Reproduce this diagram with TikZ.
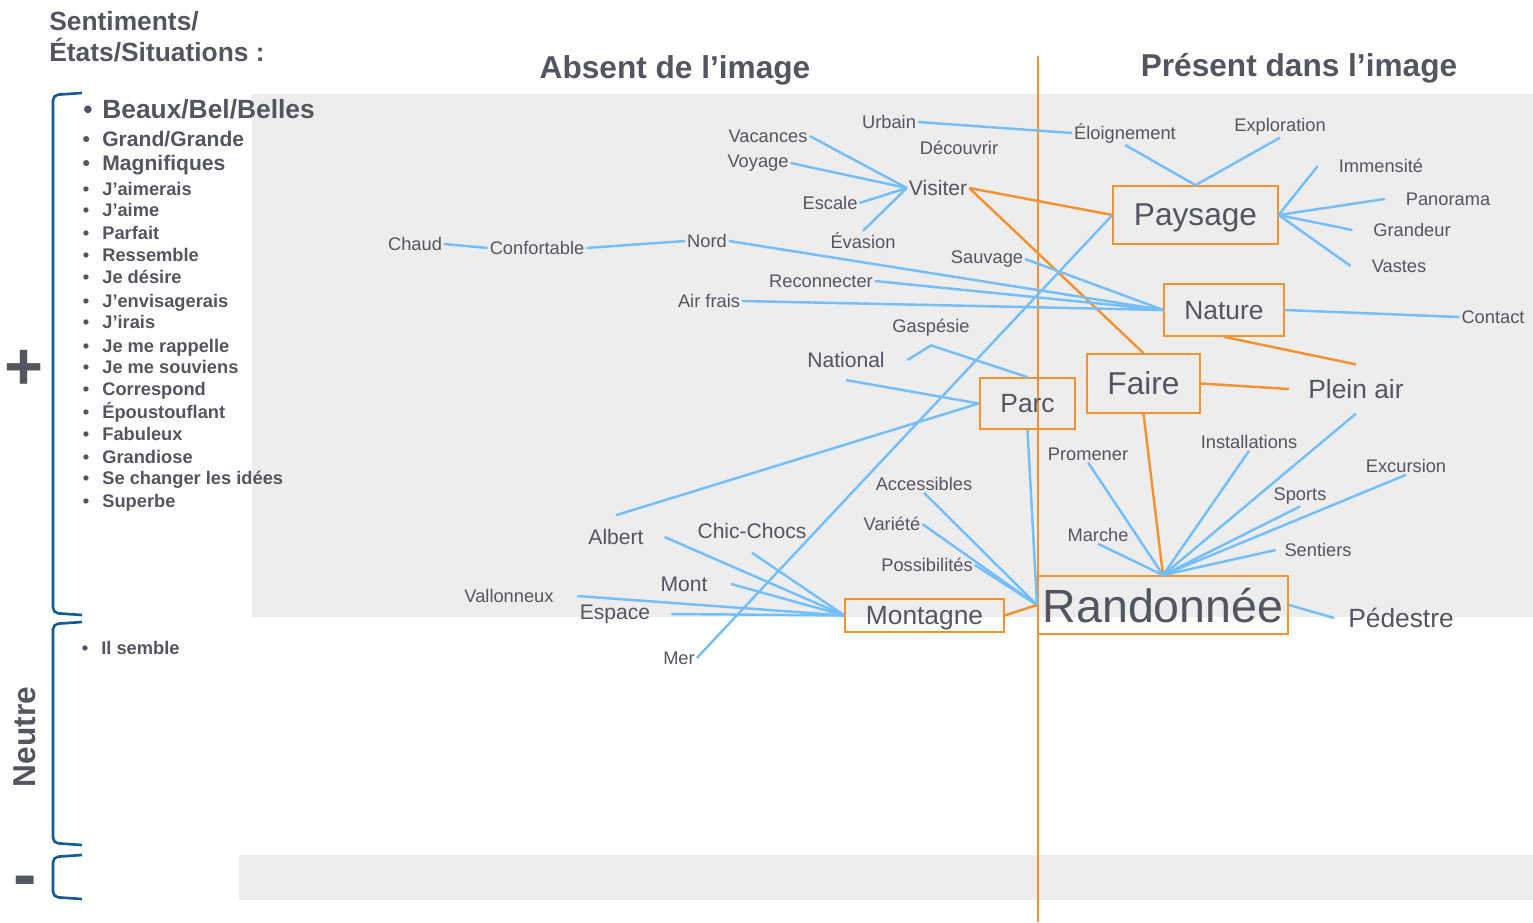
\documentclass[tikz,border=0pt]{standalone}
\usepackage{fontspec}
\setmainfont{Liberation Sans}
\definecolor{ink}{RGB}{83,86,94}
\definecolor{sky}{RGB}{117,190,252}
\definecolor{tangerine}{RGB}{245,146,48}
\definecolor{panel}{RGB}{237,237,237}
\definecolor{bracketblue}{RGB}{22,90,150}

\begin{document}
\begin{tikzpicture}[x=0.02cm, y=-0.02cm,
    word/.style={text=ink, inner sep=1pt, font=\fontsize{10.4}{12}\selectfont},
    midword/.style={word, font=\fontsize{12}{14}\selectfont},
    bigword/.style={word, font=\fontsize{15}{18}\selectfont},
    box/.style={draw=tangerine, line width=1.1pt, text=ink, inner sep=0pt, text depth=0pt},
    link/.style={draw=sky, line width=1.4pt},
    tie/.style={draw=tangerine, line width=1.4pt},
    item/.style={text=ink, inner sep=0pt, anchor=base west, font=\bfseries\fontsize{10.4}{12}\selectfont},
    brace/.style={draw=bracketblue, line width=1.5pt, rounded corners=3pt}]
    \useasboundingbox (0,0) rectangle (1533,922);
    \fill[panel] (252,94) rectangle (1533,617);
    \fill[panel] (239,855) rectangle (1533,900);
    \draw[tangerine, line width=1.3pt] (1038,56) -- (1038,922);

    % headings
    \node[text=ink, font=\bfseries\fontsize{18}{21}\selectfont] (absent) at (675,70) {Absent de l’image};
    \node[text=ink, font=\bfseries\fontsize{18}{21}\selectfont] (present) at (1299,68) {Présent dans l’image};
    \node[text=ink, font=\bfseries\fontsize{15}{17.6}\selectfont, align=left, anchor=north west, inner sep=0pt] (sentiments) at (49,11) {Sentiments/\\États/Situations :};

    % scale on the left
    \node[text=ink, font=\bfseries\fontsize{38}{40}\selectfont, inner sep=0pt] (plus) at (24,370) {+};
    \node[text=ink, font=\bfseries\fontsize{18}{20}\selectfont, rotate=90] (neutre) at (25,737) {Neutre};
    \node[text=ink, font=\bfseries\fontsize{40}{40}\selectfont, inner sep=0pt] (minus) at (25,887) {-};
    \draw[brace] (82,93) -- (53,95) -- (53,613) -- (82,615);
    \draw[brace] (82,622) -- (53,624) -- (53,843) -- (82,845);
    \draw[brace] (82,855) -- (53,857) -- (53,897) -- (82,899);

    \node[item, font=\bfseries\fontsize{15}{18}\selectfont] (beaux) at (102,119) {\llap{\textbullet\hspace{5.5pt}}Beaux/Bel/Belles};
    \node[item, font=\bfseries\fontsize{12}{14}\selectfont] (grand) at (102,147) {\llap{\textbullet\hspace{7pt}}Grand/Grande};
    \node[item, font=\bfseries\fontsize{12}{14}\selectfont] (magnifiques) at (102,171) {\llap{\textbullet\hspace{7pt}}Magnifiques};
    \foreach \y/\t in {195/J'aimerais, 216/J'aime, 239/Parfait, 261/Ressemble, 283/Je désire,
        307/J'envisagerais, 328/J'irais, 352/Je me rappelle, 373/Je me souviens, 395/Correspond,
        418/Époustouflant, 440/Fabuleux, 463/Grandiose, 484/Se changer les idées, 507/Superbe}
        \node[item] (s\y) at (102,\y) {\llap{\textbullet\hspace{7.5pt}}\t};
    \node[item] (semble) at (101,654) {\llap{\textbullet\hspace{7.5pt}}Il semble};

    % absent side
    \node[word] (urbain) at (889,122) {Urbain};
    \node[word] (decouvrir) at (959,148) {Découvrir};
    \node[word] (vacances) at (768,136) {Vacances};
    \node[word] (voyage) at (758,163) {Voyage};
    \node[midword] (visiter) at (938,188) {Visiter};
    \node[word] (escale) at (830,203) {Escale};
    \node[word] (evasion) at (863,241) {Évasion};
    \node[word] (chaud) at (415,244) {Chaud};
    \node[word] (confortable) at (537,248) {Confortable};
    \node[word] (nord) at (707,241) {Nord};
    \node[word] (sauvage) at (987,259) {Sauvage};
    \node[word] (reconnecter) at (821,281) {Reconnecter};
    \node[word] (airfrais) at (709,301) {Air frais};
    \node[word, outer ysep=4pt] (gaspesie) at (931,328) {Gaspésie};
    \node[midword, outer sep=6pt] (national) at (846,360) {National};
    \node[word] (accessibles) at (924,484) {Accessibles};
    \node[word] (variete) at (892,524) {Variété};
    \node[word] (possibilites) at (927,565) {Possibilités};
    \node[midword, outer xsep=11pt, outer ysep=7pt] (albert) at (616,537) {Albert};
    \node[midword, outer ysep=7pt] (chicchocs) at (752,531) {Chic-Chocs};
    \node[midword, outer xsep=12.5pt] (mont) at (684,584) {Mont};
    \node[word, outer xsep=12.5pt] (vallonneux) at (509,596) {Vallonneux};
    \node[midword, outer xsep=11pt] (espace) at (615,614) {Espace};
    \node[word] (mer) at (679,658) {Mer};

    % present side
    \node[word] (eloignement) at (1125,133) {Éloignement};
    \node[word] (exploration) at (1280,127) {Exploration};
    \node[word, outer xsep=11pt] (immensite) at (1381,166) {Immensité};
    \node[word, outer xsep=11pt] (panorama) at (1448,199) {Panorama};
    \node[word, outer xsep=11pt] (grandeur) at (1412,230) {Grandeur};
    \node[word, outer xsep=11pt] (vastes) at (1399,266) {Vastes};
    \node[word] (contact) at (1493,317) {Contact};
    \node[bigword, outer xsep=10pt, outer ysep=7.5pt] (pleinair) at (1356,389) {Plein air};
    \node[word] (promener) at (1088,454) {Promener};
    \node[word] (installations) at (1249,442) {Installations};
    \node[word] (excursion) at (1406,466) {Excursion};
    \node[word] (sports) at (1300,496) {Sports};
    \node[word, outer xsep=4pt] (sentiers) at (1318,550) {Sentiers};
    \node[word] (marche) at (1098,535) {Marche};
    \node[bigword, outer xsep=7pt] (pedestre) at (1401,618) {Pédestre};

    % boxed themes
    \node[box, minimum width=93.5pt, minimum height=32.9pt, font=\fontsize{18}{20}\selectfont, text depth=-1pt] (paysage) at (1195.5,215) {Paysage};
    \node[box, minimum width=68pt, minimum height=29.5pt, font=\fontsize{15}{18}\selectfont] (nature) at (1224,310) {Nature};
    \node[box, minimum width=64pt, minimum height=33.4pt, font=\fontsize{18}{20}\selectfont] (faire) at (1143.5,383.5) {Faire};
    \node[box, minimum width=54.4pt, minimum height=28.9pt, font=\fontsize{15}{18}\selectfont] (parc) at (1027.5,403.5) {Parc};
    \node[box, minimum width=142.3pt, minimum height=32.9pt, font=\fontsize{26.5}{28}\selectfont] (randonnee) at (1163,605) {Randonnée};
    \node[box, minimum width=90pt, minimum height=18.7pt, font=\fontsize{15}{18}\selectfont] (montagne) at (924.5,615.5) {Montagne};

    % connectors
    \draw[link] (vacances.east) -- (visiter.west);
    \draw[link] (voyage.east) -- (visiter.west);
    \draw[link] (escale.east) -- (visiter.west);
    \draw[link] (evasion.north) -- (visiter.west);
    \draw[link] (urbain.east) -- (eloignement.west);
    \draw[tie] (visiter.east) -- (paysage.west);
    \draw[tie] (visiter.east) -- (faire.north);
    \draw[link] (eloignement.south) -- (paysage.north);
    \draw[link] (exploration.south) -- (paysage.north);
    \foreach \w in {immensite, panorama, grandeur, vastes}
        \draw[link] (paysage.east) -- (\w.west);
    \draw[link] (paysage.west) -- (mer.east);
    \draw[link] (chaud.east) -- (confortable.west);
    \draw[link] (confortable.east) -- (nord.west);
    \foreach \w in {nord, reconnecter, airfrais, sauvage}
        \draw[link] (\w.east) -- (nature.west);
    \draw[link] (nature.east) -- (contact.west);
    \draw[tie] (nature.south) -- (pleinair.north);
    \draw[tie] (faire.east) -- (pleinair.west);
    \draw[tie] (faire.south) -- (randonnee.north);
    \foreach \w in {promener, marche, installations, pleinair, sports, excursion}
        \draw[link] (\w.south) -- (randonnee.north);
    \draw[link] (sentiers.west) -- (randonnee.north);
    \draw[link] (randonnee.east) -- (pedestre.west);
    \draw[link] ([xshift=6pt]national.east) -- (gaspesie.south) -- (parc.north);
    \draw[link] (national.south) -- (parc.west);
    \draw[link] (albert.north) -- (parc.west);
    \draw[link] (parc.south) -- (randonnee.west);
    \draw[link] (accessibles.south) -- (randonnee.west);
    \draw[link] (variete.east) -- (randonnee.west);
    \draw[link] (possibilites.east) -- (randonnee.west);
    \draw[tie] (montagne.east) -- (randonnee.west);
    \foreach \w/\a in {albert/east, chicchocs/south, mont/east, vallonneux/east, espace/east}
        \draw[link] (\w.\a) -- (montagne.west);
\end{tikzpicture}
\end{document}
